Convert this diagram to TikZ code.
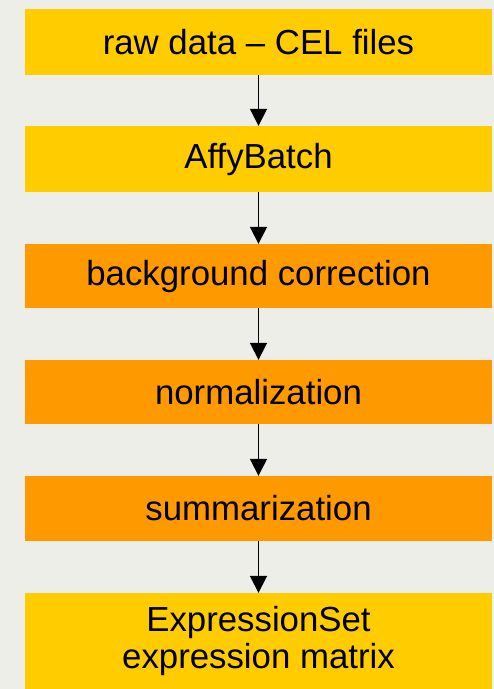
\documentclass[tikz,border=0pt]{standalone}
\usepackage{fontspec}
\setmainfont{Liberation Sans}
\usetikzlibrary{arrows.meta}
\definecolor{bgc}{HTML}{EEEEE8}
\definecolor{yel}{HTML}{FFCC00}
\definecolor{org}{HTML}{FF9900}
\tikzset{
  x=1pt, y=-1pt,
  stage/.style={fill=#1, draw=none, minimum width=467pt, inner sep=0pt,
    align=center, font=\fontsize{34.8}{37}\selectfont},
  flow/.style={line width=1.8pt, -{Triangle[width=17pt,length=17pt]}}
}
\begin{document}
\begin{tikzpicture}
\fill[bgc] (0,0) rectangle (494,689);
\useasboundingbox (0,0) rectangle (494,689);
\node[stage=yel, minimum height=66pt] (raw) at (258.5,42) {raw data -- CEL files};
\node[stage=yel, minimum height=66pt] (affy) at (258.5,159) {AffyBatch};
\node[stage=org, minimum height=64pt] (bg) at (258.5,276) {background correction};
\node[stage=org, minimum height=64pt] (norm) at (258.5,392) {normalization};
\node[stage=org, minimum height=65pt] (summ) at (258.5,508.5) {summarization};
\node[stage=yel, minimum height=96pt] (eset) at (258.5,641) {ExpressionSet\\expression matrix};
\draw[flow] (raw.south) -- (affy.north);
\draw[flow] (affy.south) -- (bg.north);
\draw[flow] (bg.south) -- (norm.north);
\draw[flow] (norm.south) -- (summ.north);
\draw[flow] (summ.south) -- (eset.north);
\end{tikzpicture}
\end{document}
